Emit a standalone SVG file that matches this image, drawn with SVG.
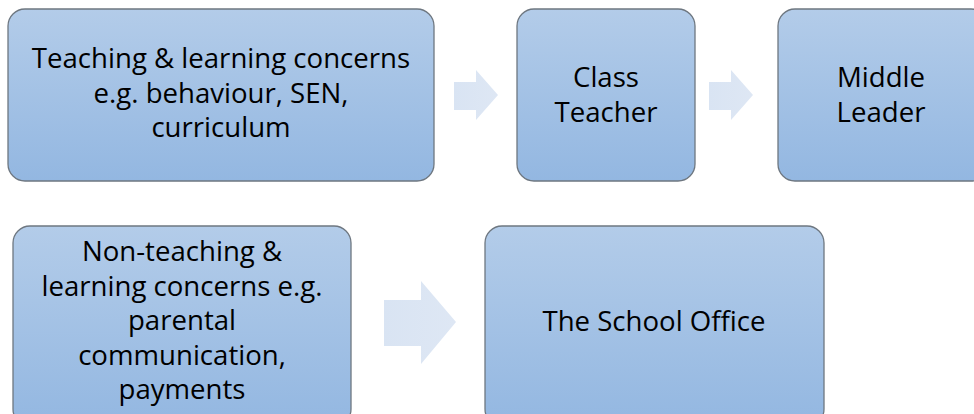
<svg xmlns="http://www.w3.org/2000/svg" width="974" height="414" viewBox="0 0 974 414">
<defs>
<linearGradient id="bg" x1="0" y1="0" x2="0" y2="1">
<stop offset="0" stop-color="#B3CCE9"/>
<stop offset="1" stop-color="#93B7E1"/>
</linearGradient>
<linearGradient id="ag" x1="0" y1="0" x2="1" y2="0">
<stop offset="0" stop-color="#D9E4F3"/>
<stop offset="1" stop-color="#DEE7F4"/>
</linearGradient>
<style>
.box{fill:url(#bg);stroke:#6E7780;stroke-width:1.3}
.arr{fill:url(#ag);stroke:none}
text{font-family:"Open Sans","Noto Sans",sans-serif;font-size:27.6px;fill:#000;text-anchor:middle}
</style>
</defs>
<rect width="974" height="414" fill="#fff"/>
<g id="connectors">
<path class="arr" d="M454,82 H476 V70 L498,95 L476,120 V110 H454 Z"/>
<path class="arr" d="M709,82 H731 V70 L753,95 L731,120 V110 H709 Z"/>
<path class="arr" d="M384,300 H421 V281 L456,322 L421,364 V346 H384 Z"/>
</g>
<g id="n1">
<rect class="box" x="8" y="9" width="426" height="172" rx="17"/>
<text x="221" y="68">Teaching &amp; learning concerns</text>
<text x="221" y="102.5">e.g. behaviour, SEN,</text>
<text x="221" y="137">curriculum</text>
</g>
<g id="n2">
<rect class="box" x="517" y="9" width="178" height="172" rx="17"/>
<text x="606" y="87">Class</text>
<text x="606" y="121.5">Teacher</text>
</g>
<g id="n3">
<rect class="box" x="778" y="9" width="210" height="172" rx="17"/>
<text x="881" y="87">Middle</text>
<text x="881" y="121.5">Leader</text>
</g>
<g id="n4">
<rect class="box" x="13" y="226" width="338" height="200" rx="17"/>
<text x="182" y="261">Non-teaching &amp;</text>
<text x="182" y="295.5">learning concerns e.g.</text>
<text x="182" y="330">parental</text>
<text x="182" y="364.5">communication,</text>
<text x="182" y="399">payments</text>
</g>
<g id="n5">
<rect class="box" x="485" y="226" width="339" height="200" rx="17"/>
<text x="654" y="331">The School Office</text>
</g>
</svg>
